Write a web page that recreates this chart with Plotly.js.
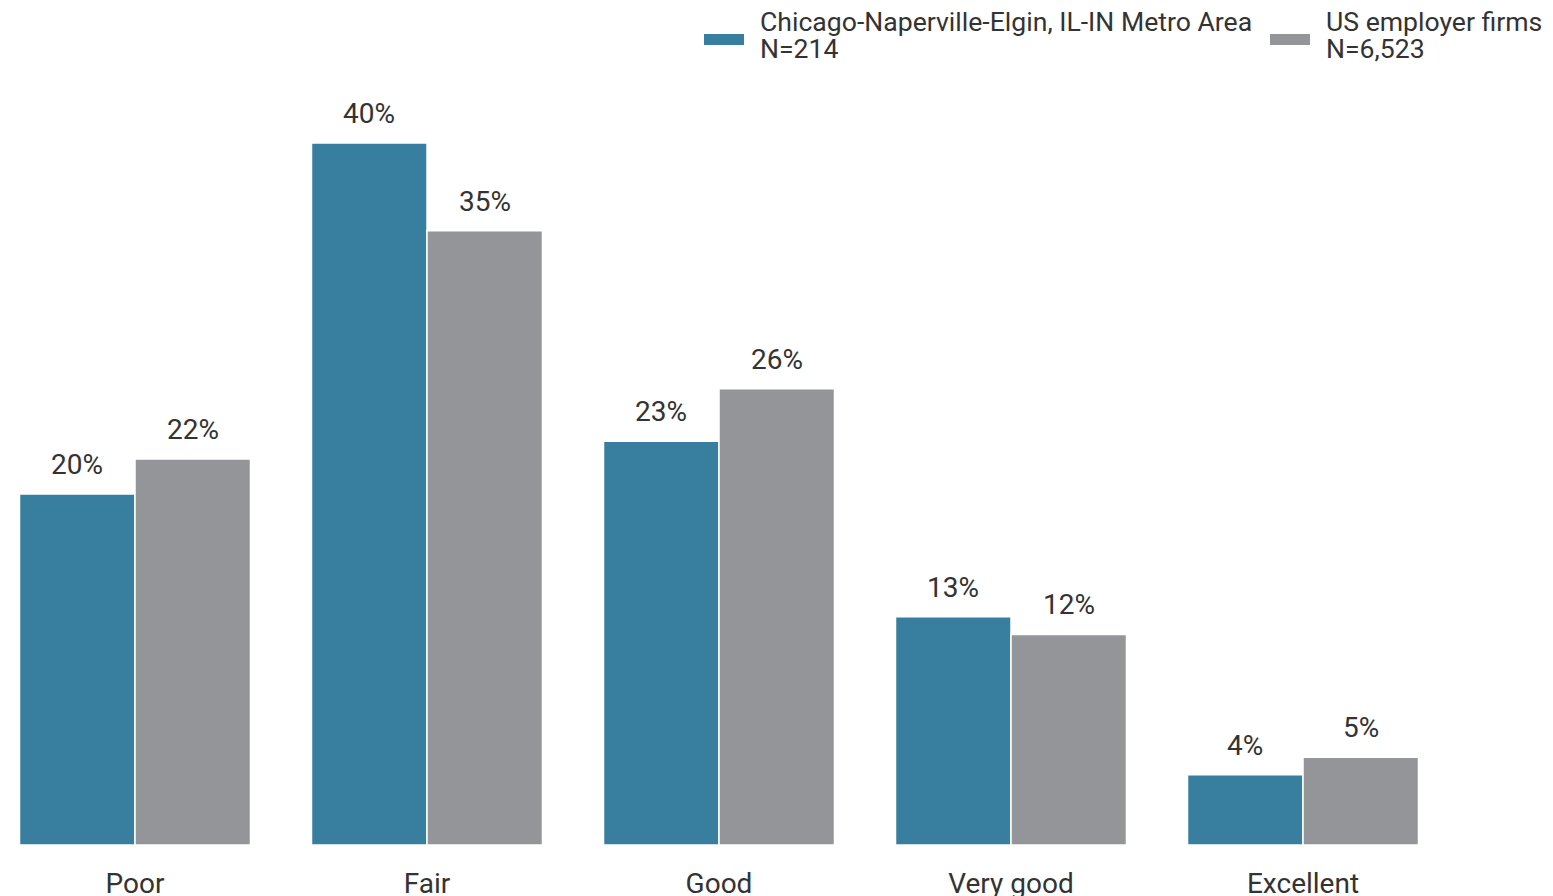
<!DOCTYPE html>
<html>
<head>
<meta charset="utf-8">
<script src="https://cdn.plot.ly/plotly-3.0.1.min.js"></script>
<style>html,body{margin:0;padding:0;background:#fff;}#chart{width:1553px;height:896px;}</style>
</head>
<body>
<div id="chart"></div>
<script>
const categories = ["Poor", "Fair", "Good", "Very good", "Excellent"];
const seriesNames = ["Chicago-Naperville-Elgin, IL-IN Metro Area", "US employer firms"];
const seriesN = ["N=214", "N=6,523"];
const chicagoValues = [20, 40, 23, 13, 4];
const usValues = [22, 35, 26, 12, 5];
const colors = ["#387e9f", "#939598"];

const font = "Roboto, 'Open Sans', sans-serif";
const allValues = [chicagoValues, usValues];

const H = 896, T = 80, B = 51;
const plotH = H - T - B;
const pxPerPct = 17.55;
function paperY(py) { return (H - B - py) / plotH; }

const traces = allValues.map((vals, i) => ({
  type: "bar",
  name: seriesNames[i],
  x: categories,
  y: vals,
  marker: {color: colors[i], line: {color: "#ffffff", width: 1.5}},
  hoverinfo: "x+y",
  showlegend: false
}));

const annotations = [];
allValues.forEach((vals, i) => {
  vals.forEach((v, j) => {
    annotations.push({
      x: categories[j], y: v, xref: "x", yref: "y",
      xshift: i === 0 ? -58 : 58, yshift: 11,
      yanchor: "bottom", showarrow: false,
      text: v + "%",
      font: {family: font, size: 28, color: "#333333"}
    });
  });
});

// custom legend
const legendX = [759, 1325];
const shapes = [];
seriesNames.forEach((name, i) => {
  [[name, 21], [seriesN[i], 49]].forEach(([txt, py]) => {
    annotations.push({
      xref: "paper", yref: "paper",
      x: legendX[i] / 1553, y: paperY(py),
      xanchor: "left", yanchor: "middle", align: "left",
      showarrow: false, borderpad: 0,
      text: txt,
      font: {family: font, size: 26.6, color: "#333333"}
    });
  });
  shapes.push({
    type: "rect", xref: "paper", yref: "paper",
    x0: (legendX[i] - 55) / 1553, x1: (legendX[i] - 15) / 1553,
    y0: paperY(45), y1: paperY(34), line: {width: 0}, fillcolor: colors[i]
  });
});

const layout = {
  width: 1553, height: 896,
  margin: {l: 0, r: 0, t: T, b: B, pad: 0},
  paper_bgcolor: "#ffffff", plot_bgcolor: "#ffffff",
  barmode: "group", bargap: 0.209, bargroupgap: 0,
  xaxis: {
    type: "category",
    range: [-135 / 292, (1553 - 135) / 292],
    showgrid: false, zeroline: false, showline: false,
    ticks: "outside", ticklen: 13, tickcolor: "rgba(0,0,0,0)",
    tickfont: {family: font, size: 28, color: "#333333"}
  },
  yaxis: {
    range: [0, plotH / pxPerPct],
    visible: false, showgrid: false, zeroline: false
  },
  annotations: annotations,
  shapes: shapes,
  showlegend: false
};

Plotly.newPlot("chart", traces, layout, {displayModeBar: false, staticPlot: true});
</script>
</body>
</html>
